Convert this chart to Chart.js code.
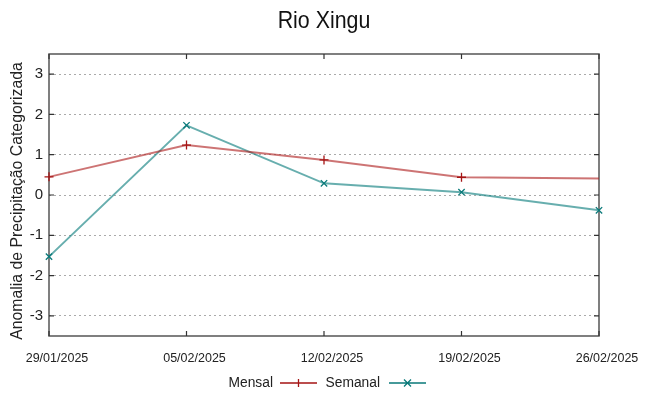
<!DOCTYPE html>
<html><head><meta charset="utf-8">
<script src="https://cdn.jsdelivr.net/npm/chart.js@4"></script>
<style>html,body{margin:0;padding:0;background:#fff}#wrap{width:648px;height:396px}</style>
</head><body><div id="wrap"><canvas id="c" width="648" height="396"></canvas></div>
<script>
const titleText = "Rio Xingu";
const yAxisTitle = "Anomalia de Precipitação Categorizada";
const categories = ["29/01/2025","05/02/2025","12/02/2025","19/02/2025","26/02/2025"];
const mensal = [0.45, 1.24, 0.87, 0.44, 0.41];
const semanal = [-1.53, 1.73, 0.29, 0.07, -0.38];
const yTicks = [-3,-2,-1,0,1,2,3];
const seriesNames = ["Mensal","Semanal"];

const REG = "'Liberation Sans',Arial,sans-serif";
const RED = '#a51515', TEAL = '#0a7a7a';
const SQ = 0.89; // horizontal squeeze of the reference's text

function squeezedText(ctx, text, x, y, align){
  ctx.save();
  ctx.translate(x, y);
  ctx.scale(SQ, 1);
  ctx.textAlign = align;
  ctx.fillText(text, 0, 0);
  ctx.restore();
}

const framePlugin = {
  id:'frame',
  beforeDatasetsDraw(chart){
    const {ctx, chartArea:a, scales:{x,y}} = chart;
    ctx.save();
    ctx.strokeStyle = '#555'; ctx.lineWidth = 1.5;
    ctx.strokeRect(a.left, a.top, a.right-a.left, a.bottom-a.top);
    ctx.lineWidth = 1.2; ctx.strokeStyle='#333';
    ctx.beginPath();
    for (let i=0;i<categories.length;i++){
      const px = x.getPixelForValue(i);
      ctx.moveTo(px,a.bottom); ctx.lineTo(px,a.bottom-5);
      ctx.moveTo(px,a.top); ctx.lineTo(px,a.top+5);
    }
    for (const t of yTicks){
      const py = y.getPixelForValue(t);
      ctx.moveTo(a.left,py); ctx.lineTo(a.left+5,py);
      ctx.moveTo(a.right,py); ctx.lineTo(a.right-5,py);
    }
    ctx.stroke();
    ctx.restore();
  },
  afterDraw(chart){
    const ctx = chart.ctx;
    ctx.save();
    // title
    ctx.fillStyle = '#111';
    ctx.font = "24px " + REG;
    ctx.textBaseline = 'alphabetic';
    squeezedText(ctx, titleText, 324, 28, 'center');
    // y axis title
    ctx.fillStyle = '#222';
    ctx.font = "15.8px " + REG;
    ctx.save();
    ctx.translate(18, 201);
    ctx.rotate(-Math.PI/2);
    ctx.textAlign='center'; ctx.textBaseline='middle';
    ctx.fillText(yAxisTitle, 0, 0);
    ctx.restore();
    // legend
    ctx.font = "15.5px " + REG;
    ctx.textBaseline = 'middle';
    const yy = 383;
    const items = [
      {name:seriesNames[0], textRight:273, x0:280, x1:317, color:RED, mark:'+'},
      {name:seriesNames[1], textRight:380, x0:389, x1:426, color:TEAL, mark:'x'}
    ];
    for (const it of items){
      ctx.fillStyle = '#222';
      squeezedText(ctx, it.name, it.textRight, yy, 'right');
      ctx.strokeStyle = it.color; ctx.lineWidth = 1.3;
      ctx.beginPath(); ctx.moveTo(it.x0,yy); ctx.lineTo(it.x1,yy);
      const cx=(it.x0+it.x1)/2;
      if (it.mark==='+'){ ctx.moveTo(cx,yy-4); ctx.lineTo(cx,yy+4); }
      else { ctx.moveTo(cx-3.5,yy-3.5); ctx.lineTo(cx+3.5,yy+3.5); ctx.moveTo(cx-3.5,yy+3.5); ctx.lineTo(cx+3.5,yy-3.5); }
      ctx.stroke();
    }
    ctx.restore();
  }
};

new Chart(document.getElementById('c'), {
  type:'line',
  data:{
    labels:categories,
    datasets:[
      {label:seriesNames[0], data:mensal, borderColor:'rgba(175,30,30,0.62)', borderWidth:2,
       pointStyle:'cross', pointRadius:mensal.map((v,i)=> i===mensal.length-1?0:4.5), pointBorderColor:RED, pointBorderWidth:1.3,
       tension:0, clip:false},
      {label:seriesNames[1], data:semanal, borderColor:'rgba(10,125,125,0.62)', borderWidth:2,
       pointStyle:'crossRot', pointRadius:4.5, pointBorderColor:TEAL, pointBorderWidth:1.3,
       tension:0, clip:false}
    ]
  },
  options:{
    responsive:false, animation:false,
    layout:{padding:{left:0,right:49,top:54,bottom:0}},
    plugins:{ legend:{display:false}, tooltip:{enabled:false}, title:{display:false} },
    scales:{
      x:{
        type:'category', offset:false,
        grid:{display:false, drawTicks:false},
        border:{display:false},
        ticks:{color:'#222', font:{family:REG, size:12.5}, padding:15, labelOffset:8, maxRotation:0, autoSkip:false},
        afterFit(s){ s.height = 60; }
      },
      y:{
        min:-3.5, max:3.5,
        afterBuildTicks(s){ s.ticks = yTicks.map(v=>({value:v})); },
        grid:{color:'#aaa', lineWidth:1, drawTicks:false},
        border:{display:false, dash:[2,3]},
        ticks:{color:'#222', font:{family:REG, size:15}, padding:6},
        title:{display:false},
        afterFit(s){ s.width = 49; }
      }
    }
  },
  plugins:[framePlugin]
});
</script></body></html>
